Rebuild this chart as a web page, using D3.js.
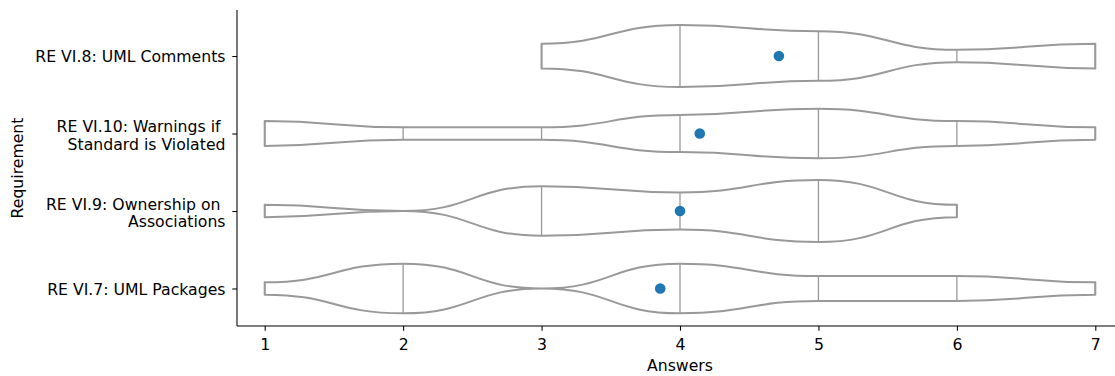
<!DOCTYPE html>
<html>
<head>
<meta charset="utf-8">
<script src="https://d3js.org/d3.v7.min.js"></script>
<style>
  body { margin: 0; background: #fff; }
  text { font-family: "DejaVu Sans", sans-serif; fill: #000; }
  .tick text { font-size: 15.7px; }
  .ylab { white-space: pre; }
</style>
</head>
<body>
<svg id="chart" width="1115" height="376"></svg>
<script>
// answer scale (1..7) and requirements, top to bottom
var answers = [1, 2, 3, 4, 5, 6, 7];
var requirements = [
  "RE VI.8: UML Comments",
  "RE VI.10: Warnings if \nStandard is Violated",
  "RE VI.9: Ownership on \nAssociations",
  "RE VI.7: UML Packages"
];
// number of answers per value 1..7, one row per requirement
var countsVI8  = [0, 0, 2, 5, 4, 1, 2];
var countsVI10 = [2, 1, 1, 3, 4, 2, 1];
var countsVI9  = [1, 0, 4, 3, 5, 1, 0];
var countsVI7  = [1, 4, 0, 4, 2, 2, 1];
var counts = [countsVI8, countsVI10, countsVI9, countsVI7];

var svg = d3.select("#chart");
var axLeft = 237, axTop = 10, axBottom = 326, axRight = 1123;
var fs = "15.7px";

var x = d3.scaleLinear().domain([0.8, 7.2]).range([axLeft, axRight]);
var y = d3.scaleLinear().domain([-0.594, 3.484]).range([axTop, axBottom]);
var maxCount = d3.max(counts, c => d3.max(c));
var halfW = d3.scaleLinear().domain([0, maxCount]).range([0, y(0.4) - y(0)]);

var gray = "#999999";

var area = d3.area()
    .x(d => x(d.a))
    .y0(d => d.cy - halfW(d.n))
    .y1(d => d.cy + halfW(d.n))
    .curve(d3.curveBumpX);

counts.forEach(function(c, i) {
  var cy = y(i);
  var pts = answers.map((a, j) => ({a: a, n: c[j], cy: cy}));
  var first = pts.findIndex(p => p.n > 0);
  var last = pts.length - 1 - pts.slice().reverse().findIndex(p => p.n > 0);
  pts = pts.slice(first, last + 1);

  var g = svg.append("g");
  g.append("path")
    .attr("d", area(pts))
    .attr("fill", "#fff")
    .attr("stroke", gray)
    .attr("stroke-width", 2)
    .attr("stroke-linejoin", "round");

  // sticks at each observed answer
  g.selectAll("line.stick")
    .data(pts.filter(p => p.n > 0))
    .enter().append("line")
    .attr("class", "stick")
    .attr("x1", d => x(d.a)).attr("x2", d => x(d.a))
    .attr("y1", d => cy - halfW(d.n)).attr("y2", d => cy + halfW(d.n))
    .attr("stroke", gray)
    .attr("stroke-width", 1.3);

  // mean marker
  var all = [];
  c.forEach((n, j) => { for (var k = 0; k < n; k++) all.push(answers[j]); });
  g.append("circle")
    .attr("cx", x(d3.mean(all)))
    .attr("cy", cy)
    .attr("r", 5.3)
    .attr("fill", "#1f77b4");
});

// axes
var xAxis = svg.append("g")
  .attr("transform", "translate(0," + axBottom + ")")
  .call(d3.axisBottom(x).tickValues(answers).tickFormat(d3.format("d")).tickSize(4.7).tickPadding(4.5));
xAxis.select(".domain").attr("d", "M" + axLeft + ",0H" + axRight);
xAxis.selectAll(".tick text").attr("dy", null).attr("y", 24);

var yAxis = svg.append("g")
  .attr("transform", "translate(" + axLeft + ",0)")
  .call(d3.axisLeft(y).tickValues(d3.range(requirements.length)).tickFormat("").tickSize(4.7));
yAxis.select(".domain").attr("d", "M0," + axTop + "V" + axBottom);
svg.selectAll(".domain, .tick line").attr("stroke", "#000").attr("stroke-width", 1.07);

// y tick labels (multi-line)
requirements.forEach(function(r, i) {
  var lines = r.split("\n");
  var lh = 17.5;
  var t = svg.append("text")
    .attr("class", "ylab")
    .attr("text-anchor", "end")
    .attr("font-size", fs)
    .attr("x", axLeft - 11.5)
    .attr("y", y(i) + 6.3 - (lines.length - 1) * 7.5);
  lines.forEach(function(l, k) {
    t.append("tspan").attr("x", axLeft - 11.5).attr("dy", k ? lh : 0).text(l);
  });
});

svg.append("text")
  .attr("x", 680)
  .attr("y", 371.3)
  .attr("text-anchor", "middle")
  .attr("font-size", fs)
  .text("Answers");

svg.append("text")
  .attr("transform", "translate(23," + (axTop + axBottom) / 2 + ")rotate(-90)")
  .attr("text-anchor", "middle")
  .attr("font-size", fs)
  .text("Requirement");
</script>
</body>
</html>
